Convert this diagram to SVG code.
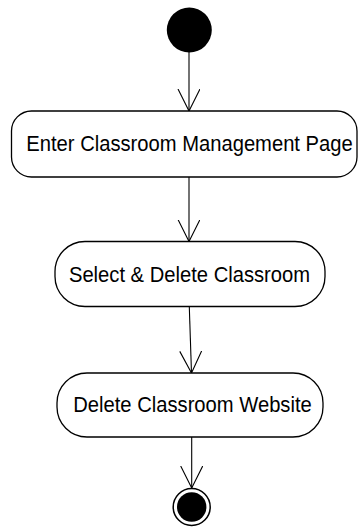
<svg xmlns="http://www.w3.org/2000/svg" width="358" height="528" viewBox="0 0 358 528">
<defs>
<style>
.act{fill:#fff;stroke:#000;stroke-width:1.3}
.lbl{font-family:"Liberation Sans",Arial,sans-serif;font-size:20.2px;fill:#000;text-anchor:middle}
.edge{stroke:#000;stroke-width:1.1;fill:none}
</style>
<marker id="open" markerWidth="24" markerHeight="24" refX="22" refY="11" orient="auto" markerUnits="userSpaceOnUse">
<path d="M0,0 L22,11 L0,22" fill="none" stroke="#000" stroke-width="1.1"/>
</marker>
</defs>
<rect width="358" height="528" fill="#fff"/>
<g id="edges">
<line class="edge" x1="189" y1="52" x2="189" y2="111" marker-end="url(#open)"/>
<line class="edge" x1="189" y1="177" x2="189" y2="241.5" marker-end="url(#open)"/>
<line class="edge" x1="189.3" y1="307" x2="191.5" y2="373" marker-end="url(#open)"/>
<line class="edge" x1="191.7" y1="437" x2="191.7" y2="488" marker-end="url(#open)"/>
</g>
<g id="start">
<circle cx="189.3" cy="30" r="22.5" fill="#000"/>
</g>
<g id="enter">
<rect class="act" x="11.5" y="111" width="345.5" height="66" rx="20" ry="20"/>
<text class="lbl" transform="translate(189.5,151) scale(1,1.09)">Enter Classroom Management Page</text>
</g>
<g id="select">
<rect class="act" x="55" y="241.5" width="270" height="65" rx="30" ry="30"/>
<text class="lbl" transform="translate(189.5,281.5) scale(1,1.09)">Select &amp; Delete Classroom</text>
</g>
<g id="delete">
<rect class="act" x="57" y="373" width="266" height="64" rx="30" ry="30"/>
<text class="lbl" transform="translate(192.5,412) scale(1,1.09)">Delete Classroom Website</text>
</g>
<g id="end">
<circle cx="191.7" cy="507" r="18.5" fill="#fff" stroke="#000" stroke-width="1.5"/>
<circle cx="191.7" cy="507" r="14.7" fill="#000"/>
</g>
</svg>
